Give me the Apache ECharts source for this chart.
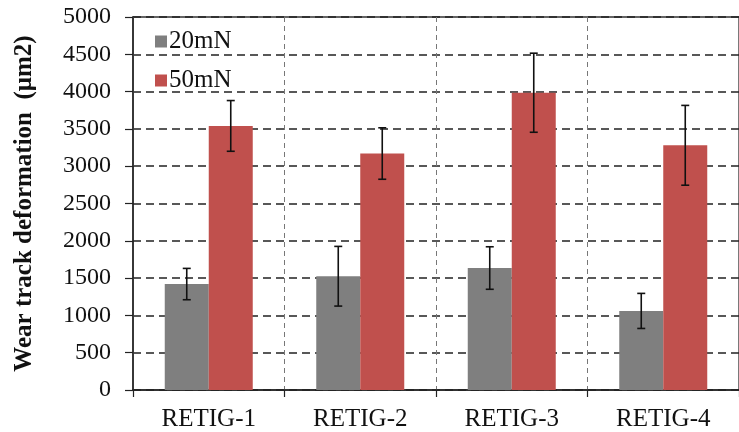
<!DOCTYPE html>
<html><head><meta charset="utf-8">
<script src="https://cdn.jsdelivr.net/npm/echarts@6/dist/echarts.min.js"></script>
<style>html,body{margin:0;padding:0;background:#fff}#c{width:739px;height:432px}</style>
</head><body><div id="c"></div>
<script>
const categories = ['RETIG-1','RETIG-2','RETIG-3','RETIG-4'];
const seriesNames = ['20mN','50mN'];
const values20 = [1420, 1525, 1635, 1060];
const err20 = [210, 400, 285, 235];
const values50 = [3540, 3170, 3985, 3280];
const err50 = [340, 345, 530, 535];
const yTicks = {min: 0, max: 5000, interval: 500};

const FONT = 'Liberation Serif';
const BW = 44;
function errSeries(vals, errs, offset) {
  return {
    type: 'custom',
    data: vals.map((v, i) => [i, v, errs[i]]),
    z: 10,
    silent: true,
    renderItem: function (params, api) {
      const i = api.value(0), v = api.value(1), e = api.value(2);
      const hi = api.coord([i, v + e]);
      const lo = api.coord([i, v - e]);
      const x = hi[0] + offset;
      const cap = 4;
      const st = {stroke: '#111', lineWidth: 1.6};
      return {type: 'group', children: [
        {type: 'line', shape: {x1: x, y1: hi[1], x2: x, y2: lo[1]}, style: st},
        {type: 'line', shape: {x1: x - cap, y1: hi[1], x2: x + cap, y2: hi[1]}, style: st},
        {type: 'line', shape: {x1: x - cap, y1: lo[1], x2: x + cap, y2: lo[1]}, style: st}
      ]};
    }
  };
}

const chart = echarts.init(document.getElementById('c'), null, {renderer: 'canvas'});
chart.setOption({
  animation: false,
  backgroundColor: '#fff',
  textStyle: {fontFamily: FONT},
  grid: {left: 133, top: 17, width: 612, height: 374, show: true, borderColor: '#333', borderWidth: 1.3, backgroundColor: 'transparent'},
  legend: {
    orient: 'vertical', left: 150, top: 24, itemGap: 14, itemWidth: 12, itemHeight: 12,
    icon: 'rect', data: seriesNames,
    textStyle: {fontFamily: FONT, fontSize: 25, color: '#111', padding: [0,0,0,-3]}
  },
  xAxis: {
    type: 'category', data: categories,
    axisLine: {lineStyle: {color: '#222', width: 1.5}},
    axisTick: {show: true, length: 7, lineStyle: {color: '#222', width: 1.2}},
    axisLabel: {fontFamily: FONT, fontSize: 25, color: '#111', margin: 17},
    splitLine: {show: true, lineStyle: {color: '#777', width: 1, type: [5, 4]}}
  },
  yAxis: {
    type: 'value', min: yTicks.min, max: yTicks.max, interval: yTicks.interval,
    name: 'Wear track deformation  (\u03bcm2)', nameLocation: 'middle', nameGap: 96,
    nameTextStyle: {fontFamily: FONT, fontSize: 25, fontWeight: 'bold', color: '#111'},
    axisLine: {show: true, lineStyle: {color: '#222', width: 1.5}},
    axisTick: {show: true, length: 8, lineStyle: {color: '#222', width: 1.2}},
    axisLabel: {fontFamily: FONT, fontSize: 24, color: '#111', margin: 22, formatter: v => String(v)},
    splitLine: {show: true, lineStyle: {color: '#222', width: 1.6, type: [8, 5]}}
  },
  series: [
    {name: seriesNames[0], type: 'bar', data: values20, barWidth: BW, barGap: '0%', itemStyle: {color: '#7f7f7f'}},
    {name: seriesNames[1], type: 'bar', data: values50, barWidth: BW, barGap: '0%', itemStyle: {color: '#c0504d'}},
    errSeries(values20, err20, -BW / 2),
    errSeries(values50, err50, BW / 2)
  ]
});
</script></body></html>
